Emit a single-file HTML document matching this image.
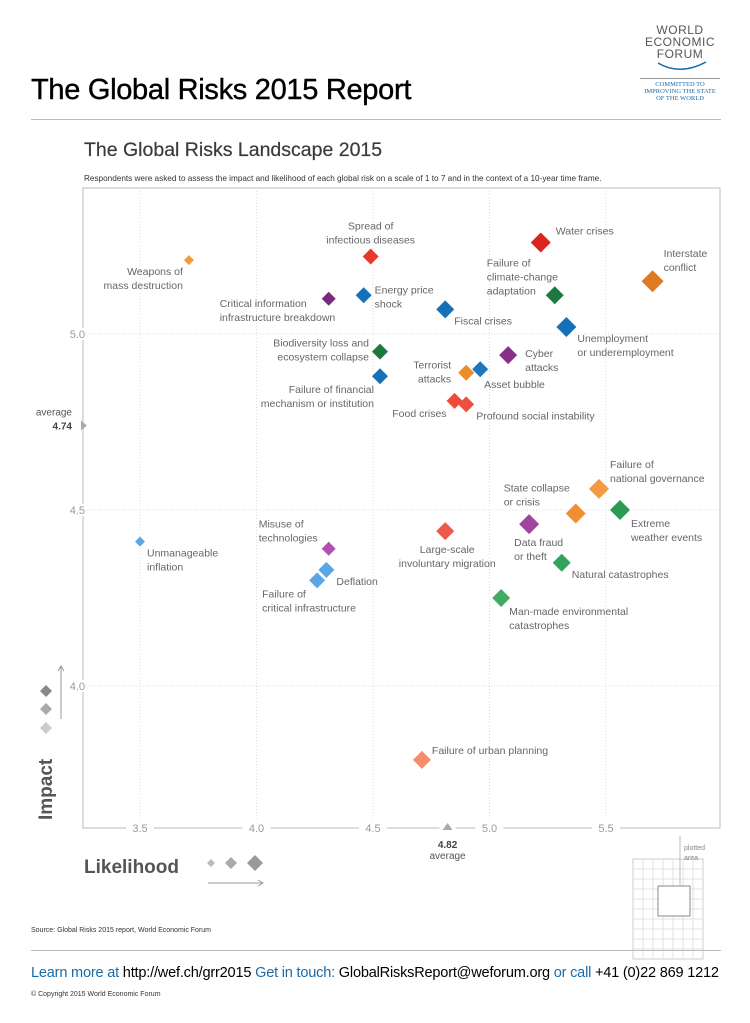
<!DOCTYPE html>
<html><head><meta charset="utf-8">
<style>
body{margin:0;background:#fff;font-family:"Liberation Sans",sans-serif;}
#page{position:relative;width:750px;height:1023px;overflow:hidden;background:#fff;}
.abs{position:absolute;}
</style></head>
<body><div id="page">
<div class="abs" style="left:31px;top:74px;font-size:29px;color:#000;letter-spacing:-0.3px;-webkit-text-stroke:0.4px #000">The Global Risks 2015 Report</div>
<div class="abs" style="left:640px;top:24px;width:80px;text-align:center;color:#555;font-size:12px;line-height:12px;letter-spacing:0.5px">WORLD<br>ECONOMIC<br>FORUM
<svg width="60" height="14" style="display:block;margin:0 auto"><path d="M8 3 Q30 16 56 2" stroke="#1a6aa8" stroke-width="1.5" fill="none"/></svg>
<div style="border-top:1px solid #999;margin-top:4px;padding-top:2px;font-family:'Liberation Serif',serif;font-size:6.5px;line-height:7px;color:#1a6aa8;letter-spacing:0">COMMITTED TO<br>IMPROVING THE STATE<br>OF THE WORLD</div></div>
<div class="abs" style="left:31px;top:119px;width:690px;height:1px;background:#bbb"></div>
<div class="abs" style="left:84px;top:139px;font-size:19.5px;color:#3a3a3a;-webkit-text-stroke:0.2px #3a3a3a">The Global Risks Landscape 2015</div>
<div class="abs" style="left:84px;top:174px;font-size:8.2px;color:#333;white-space:nowrap">Respondents were asked to assess the impact and likelihood of each global risk on a scale of 1 to 7 and in the context of a 10-year time frame.</div>
<svg id="chart" class="abs" style="left:0;top:0" width="750" height="1023"></svg>
<div class="abs" style="left:31px;top:927px;font-size:7px;color:#333">Source: Global Risks 2015 report, World Economic Forum</div>
<div class="abs" style="left:31px;top:950px;width:690px;height:1px;background:#bbb"></div>
<div class="abs" style="left:31px;top:965px;font-size:14.55px;color:#000;white-space:nowrap;letter-spacing:-0.2px"><span style="color:#1a6aa8">Learn more at</span> http://wef.ch/grr2015 <span style="color:#1a6aa8">Get in touch:</span> GlobalRisksReport@weforum.org <span style="color:#1a6aa8">or call</span> +41 (0)22 869 1212</div>
<div class="abs" style="left:31px;top:991px;font-size:7px;color:#333">© Copyright 2015 World Economic Forum</div>
</div>
<script>
const names=[["Weapons of","mass destruction"],["Spread of","infectious diseases"],["Water crises"],["Interstate","conflict"],["Failure of","climate-change","adaptation"],["Critical information","infrastructure breakdown"],["Energy price","shock"],["Fiscal crises"],["Unemployment","or underemployment"],["Biodiversity loss and","ecosystem collapse"],["Cyber","attacks"],["Terrorist","attacks"],["Asset bubble"],["Failure of financial","mechanism or institution"],["Food crises"],["Profound social instability"],["Failure of","national governance"],["State collapse","or crisis"],["Extreme","weather events"],["Large-scale","involuntary migration"],["Data fraud","or theft"],["Natural catastrophes"],["Unmanageable","inflation"],["Misuse of","technologies"],["Deflation"],["Failure of","critical infrastructure"],["Man-made environmental","catastrophes"],["Failure of urban planning"]];
const likelihood=[3.71,4.49,5.22,5.70,5.28,4.31,4.46,4.81,5.33,4.53,5.08,4.90,4.96,4.53,4.85,4.90,5.47,5.37,5.56,4.81,5.17,5.31,3.50,4.31,4.30,4.26,5.05,4.71];
const impact=[5.21,5.22,5.26,5.15,5.11,5.10,5.11,5.07,5.02,4.95,4.94,4.89,4.90,4.88,4.81,4.80,4.56,4.49,4.50,4.44,4.46,4.35,4.41,4.39,4.33,4.30,4.25,3.79];
const colors=["#f39a3c","#e8382c","#d9251d","#e07a22","#1d7a3e","#7a2a7e","#1670b8","#1670b8","#1670b8","#1d7a3e","#8a2f88","#ee8b2a","#1b78c0","#1670b8","#ef4a3a","#ec5040","#f59a40","#f08f30","#2c9a52","#ee5a4a","#a0449e","#32a35a","#5aa7e8","#b050b0","#5aa7e8","#5aa7e8","#40ac62","#f68c6a"];
const sizes=[5,8,10,11,9,7,8,9,10,8,9,8,8,8,8,8,10,10,10,9,10,9,5,7,8,8,9,9];
const xTicks=[3.5,4.0,4.5,5.0,5.5];
const yTicks=[5.0,4.5,4.0];
const avgX=4.82, avgY=4.74;
// label placement (layout only)
const lab=[["end",-6,15],["middle",0,-27],["start",15,-8],["start",11,-24],["start",-68,-29],["start",-109,8],["start",11,-2],["start",9,15],["start",11,15],["end",-11,-5],["start",17,2],["end",-15,-4],["start",4,19],["end",-6,17],["end",-8,16],["start",10,15],["start",11,-21],["start",-72,-22],["start",11,17],["middle",2,22],["start",-15,22],["start",10,15],["start",7,15],["start",-70,-21],["start",10,15],["start",-55,17],["start",8,17],["start",10,-6]];
const NS="http://www.w3.org/2000/svg";
const svg=document.getElementById('chart');
const L=83,R=720,T=188,B=828;
function xs(v){return 140+(v-3.5)*233;}
function ys(v){return 334-(v-5.0)*352;}
function mk(t,a,p){const e=document.createElementNS(NS,t);for(const k in a)e.setAttribute(k,a[k]);(p||svg).appendChild(e);return e;}
const frame=mk('rect',{x:L,y:T,width:R-L,height:B-T,fill:'none',stroke:'#bbb','stroke-width':1});


xTicks.forEach(t=>{
 const g=mk('line',{x1:xs(t),x2:xs(t),y1:T,y2:B,stroke:'#ddd','stroke-dasharray':'1,2'});
 
 
 mk('rect',{x:xs(t)-14,y:B-7,width:28,height:14,fill:'#fff'});
 const tx=mk('text',{x:xs(t),y:B+4,'text-anchor':'middle','font-size':11,fill:'#999','font-family':'Liberation Sans'});
 tx.textContent=t.toFixed(1);
 
 
});
yTicks.forEach(t=>{
 const g=mk('line',{x1:L,x2:R,y1:ys(t),y2:ys(t),stroke:'#ddd','stroke-dasharray':'1,2'});
 
 
 mk('rect',{x:L-12,y:ys(t)-6,width:14,height:12,fill:'#fff'});
 const tx=mk('text',{x:L+2,y:ys(t)+4,'text-anchor':'end','font-size':11,fill:'#999','font-family':'Liberation Sans'});
 tx.textContent=t.toFixed(1);
 
 
});
const ay=ys(avgY);
const am=mk('path',{d:`M${L-2} ${ay-5} L${L+4} ${ay} L${L-2} ${ay+5}Z`,fill:'#aaa'});


let t1=mk('text',{x:72,y:ay-10,'text-anchor':'end','font-size':10,fill:'#555','font-family':'Liberation Sans'});t1.textContent='average';


let t2=mk('text',{x:72,y:ay+4,'text-anchor':'end','font-size':10,'font-weight':'bold',fill:'#444','font-family':'Liberation Sans'});t2.textContent=avgY.toFixed(2);


const ax=xs(avgX);
mk('rect',{x:ax-8,y:B-7,width:16,height:8,fill:'#fff'});
const bm=mk('path',{d:`M${ax-5} ${B+2} L${ax} ${B-5} L${ax+5} ${B+2}Z`,fill:'#aaa'});


let t3=mk('text',{x:ax,y:B+20,'text-anchor':'middle','font-size':10,'font-weight':'bold',fill:'#444','font-family':'Liberation Sans'});t3.textContent=avgX.toFixed(2);


let t4=mk('text',{x:ax,y:B+31,'text-anchor':'middle','font-size':10,fill:'#555','font-family':'Liberation Sans'});t4.textContent='average';


names.forEach((n,i)=>{
 const cx=xs(likelihood[i]),cy=ys(impact[i]),s=sizes[i];
 const d=mk('path',{d:`M${cx} ${cy-s} L${cx+s} ${cy} L${cx} ${cy+s} L${cx-s} ${cy}Z`,fill:colors[i]});
 
 
 const [an,dx,dy]=lab[i];
 n.forEach((ln,j)=>{
  const t=mk('text',{x:cx+dx,y:cy+dy+j*14,'text-anchor':an,'font-size':10.5,fill:'#666','font-family':'Liberation Sans'});
  t.textContent=ln;
  
  
 });
});
let it=mk('text',{x:0,y:0,transform:'translate(52,820) rotate(-90)','font-size':19,'font-weight':'bold',fill:'#555','font-family':'Liberation Sans'});it.textContent='Impact';


let lt=mk('text',{x:84,y:873,'font-size':19,'font-weight':'bold',fill:'#555','font-family':'Liberation Sans'});lt.textContent='Likelihood';


[[46,691,6,'#888'],[46,709,6,'#aaa'],[46,728,6,'#ccc']].forEach(a=>{const p=mk('path',{d:`M${a[0]} ${a[1]-a[2]} L${a[0]+a[2]} ${a[1]} L${a[0]} ${a[1]+a[2]} L${a[0]-a[2]} ${a[1]}Z`,fill:a[3]});});
mk('path',{d:'M61 719 L61 667 M58 671 L61 666 L64 671',stroke:'#999',fill:'none','stroke-width':1});
[[211,863,4,'#bbb'],[231,863,6,'#aaa'],[255,863,8,'#999']].forEach(a=>{const p=mk('path',{d:`M${a[0]} ${a[1]-a[2]} L${a[0]+a[2]} ${a[1]} L${a[0]} ${a[1]+a[2]} L${a[0]-a[2]} ${a[1]}Z`,fill:a[3]});});
mk('path',{d:'M208 883 L262 883 M258 880 L263 883 L258 886',stroke:'#999',fill:'none','stroke-width':1});
const g=mk('g',{});
mk('rect',{x:633,y:859,width:70,height:100,fill:'#fff',stroke:'#ccc'},g);
for(let i=1;i<7;i++){mk('line',{x1:633+i*10,x2:633+i*10,y1:859,y2:959,stroke:'#e2e2e2'},g);}
for(let i=1;i<10;i++){mk('line',{x1:633,x2:703,y1:859+i*10,y2:859+i*10,stroke:'#e2e2e2'},g);}
mk('rect',{x:658,y:886,width:32,height:30,fill:'#fff',stroke:'#888'},g);
mk('line',{x1:680,x2:680,y1:836,y2:886,stroke:'#bbb'},g);
let pa=mk('text',{x:684,y:850,'font-size':7,fill:'#888','font-family':'Liberation Sans'},g);pa.textContent='plotted';
let pb=mk('text',{x:684,y:860,'font-size':7,fill:'#888','font-family':'Liberation Sans'},g);pb.textContent='area';
</script>
</body></html>
